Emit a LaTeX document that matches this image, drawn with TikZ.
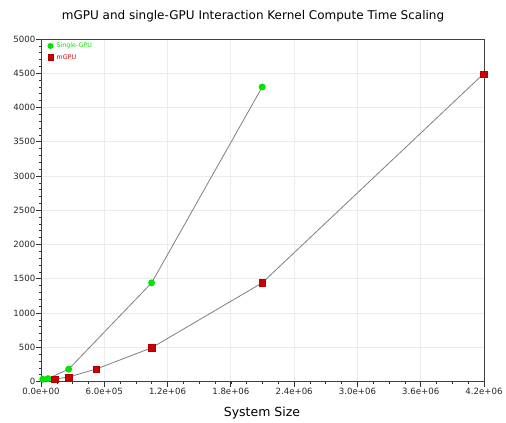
\documentclass[tikz,border=0pt]{standalone}
\usepackage{fontspec}
\setmainfont{DejaVu Sans}
\begin{document}
\begin{tikzpicture}[x=1pt,y=-1pt,
  gridline/.style={draw=black!8,line width=0.8pt},
  frame/.style={draw=black!75,line width=0.9pt},
  majtick/.style={draw=black!80,line width=0.8pt},
  mintick/.style={draw=black!80,line width=0.6pt},
  ticklab/.style={font=\fontsize{8.6}{10}\selectfont,text=black!85,inner sep=0pt},
  conn/.style={draw=black!50,line width=0.8pt},
  sgpu/.style={circle,fill=green!90!black!100,draw=none,minimum size=7pt,inner sep=0pt},
  mgpu/.style={rectangle,fill=red!80!black,draw=red!70!black,line width=0.3pt,minimum size=6.5pt,inner sep=0pt},
  legtext/.style={font=\fontsize{6.3}{7}\selectfont,anchor=west,inner sep=0pt}]
\useasboundingbox (0,0) rectangle (506,423);
\fill[white] (0,0) rectangle (506,423);

% title and axis label
\node[font=\fontsize{12}{14}\selectfont] (title) at (253,16) {mGPU and single-GPU Interaction Kernel Compute Time Scaling};
\node[font=\fontsize{12.5}{14}\selectfont] (xlabel) at (262,413) {System Size};

% plot area: x in units of 1e6, y in units of 1000
\begin{scope}[shift={(41,381.5)},x=105.476pt,y=68.5pt]
  % grid
  \foreach \gx in {0.6,1.2,...,3.61}
    \draw[gridline] (\gx,0) -- (\gx,5);
  \foreach \gy in {0.5,1,...,4.51}
    \draw[gridline] (0,\gy) -- (4.2,\gy);

  % y ticks and labels
  \foreach \gy in {0,0.1,...,5.01}
    \draw[mintick] (0,\gy) -- ++(-2.5pt,0);
  \foreach \gy/\lab in {0/0,0.5/500,1/1000,1.5/1500,2/2000,2.5/2500,3/3000,3.5/3500,4/4000,4.5/4500,5/5000} {
    \draw[majtick] (0,\gy) -- ++(-5pt,0);
    \node[ticklab,anchor=east] (yl\lab) at ([xshift=-5.5pt]0,\gy) {\lab};
  }

  % x ticks and labels
  \foreach \gx in {0,0.15,...,4.21}
    \draw[mintick] (\gx,0) -- ++(0,-2.5pt);
  \foreach \gx/\lab in {0/0.0e+00,0.6/6.0e+05,1.2/1.2e+06,1.8/1.8e+06,2.4/2.4e+06,3.0/3.0e+06,3.6/3.6e+06,4.2/4.2e+06} {
    \draw[majtick] (\gx,0) -- ++(0,-5pt);
    \node[ticklab,anchor=north] at ([yshift=-6pt]\gx,0) {\lab};
  }

  % frame
  \draw[frame] (0,0) rectangle (4.2,5);

  % single-GPU data
  \coordinate (s1) at (0.016384,0.032);
  \coordinate (s2) at (0.065536,0.042);
  \coordinate (s3) at (0.262144,0.180);
  \coordinate (s4) at (1.048576,1.440);
  \coordinate (s5) at (2.097152,4.300);
  % mGPU data
  \coordinate (m1) at (0.131072,0.036);
  \coordinate (m2) at (0.262144,0.066);
  \coordinate (m3) at (0.524288,0.182);
  \coordinate (m4) at (1.048576,0.492);
  \coordinate (m5) at (2.097152,1.440);
  \coordinate (m6) at (4.194304,4.490);

  \draw[conn] (s1) -- (s2) -- (s3) -- (s4) -- (s5);
  \draw[conn] (m1) -- (m2) -- (m3) -- (m4) -- (m5) -- (m6);

  \foreach \p in {s1,s2,s3,s4,s5}
    \node[sgpu] (d\p) at (\p) {};
  \foreach \p in {m1,m2,m3,m4,m5,m6}
    \node[mgpu] (d\p) at (\p) {};
\end{scope}

% legend
\node[sgpu,minimum size=6pt] (legs) at (50.5,46) {};
\node[legtext,text=green!90!black] (legst) at (56.5,46) {Single-GPU};
\node[mgpu,minimum size=5.5pt] (legm) at (50.5,57) {};
\node[legtext,text=red!85!black] (legmt) at (56.5,57) {mGPU};
\end{tikzpicture}
\end{document}
